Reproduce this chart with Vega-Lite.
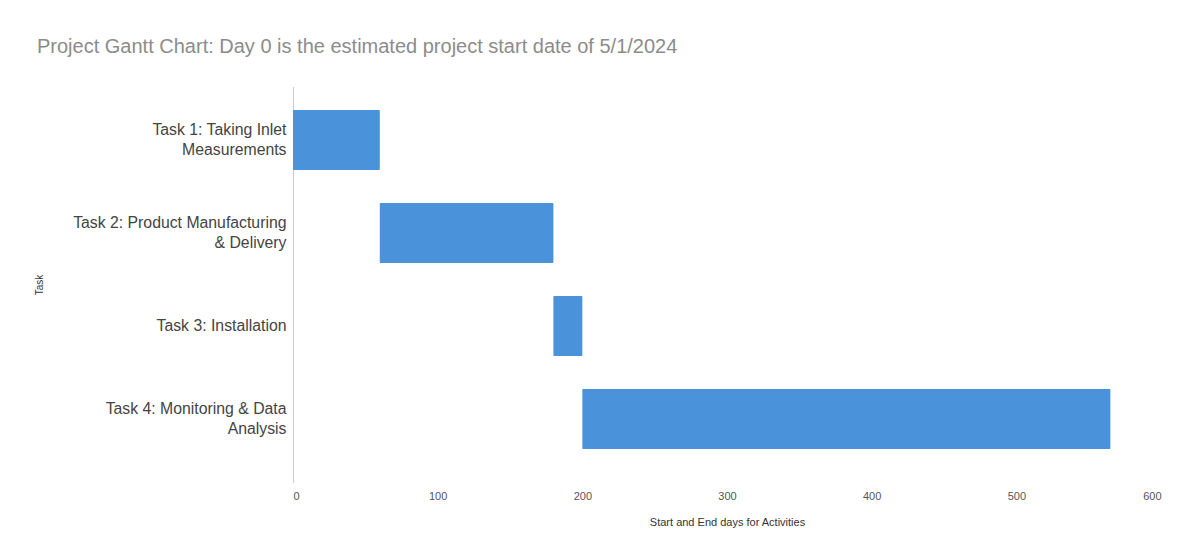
{
  "$schema": "https://vega.github.io/schema/vega-lite/v6.json",
  "width": 868,
  "height": 395,
  "autosize": "none",
  "padding": {"left": 293, "top": 87, "right": 21, "bottom": 77},
  "background": "white",
  "title": {
    "text": "Project Gantt Chart: Day 0 is the estimated project start date of 5/1/2024",
    "anchor": "start",
    "frame": "group",
    "dx": -256,
    "offset": 30,
    "font": "Liberation Sans",
    "fontSize": 20,
    "fontWeight": "normal",
    "color": "#8c8c8c"
  },
  "data": {
    "values": [
      {"task": "Task 1: Taking Inlet Measurements", "start": 0, "end": 60},
      {"task": "Task 2: Product Manufacturing & Delivery", "start": 60, "end": 180},
      {"task": "Task 3: Installation", "start": 180, "end": 200},
      {"task": "Task 4: Monitoring & Data Analysis", "start": 200, "end": 565}
    ]
  },
  "mark": {"type": "bar", "color": "#4a92da", "cornerRadius": 1},
  "encoding": {
    "y": {
      "field": "task",
      "type": "nominal",
      "scale": {"paddingInner": 0.355, "paddingOuter": 0.3, "align": 0.41},
      "axis": {
        "title": "Task",
        "titleFont": "Liberation Sans",
        "titleFontSize": 10,
        "titleFontWeight": "normal",
        "titleColor": "#333333",
        "titleX": -249,
        "labelFont": "Liberation Sans",
        "labelFontSize": 15.8,
        "labelColor": "#444444",
        "labelLimit": 400,
        "labelPadding": 7,
        "labelLineHeight": 20,
        "labelOffset": {"condition": {"test": "datum.value == 'Task 3: Installation'", "value": 0}, "value": -10},
        "labelExpr": "datum.value == 'Task 1: Taking Inlet Measurements' ? ['Task 1: Taking Inlet', 'Measurements'] : datum.value == 'Task 2: Product Manufacturing & Delivery' ? ['Task 2: Product Manufacturing', '& Delivery'] : datum.value == 'Task 4: Monitoring & Data Analysis' ? ['Task 4: Monitoring & Data', 'Analysis'] : datum.value",
        "ticks": false,
        "grid": false,
        "domain": true,
        "domainColor": "#999999",
        "domainDash": [1, 1]
      }
    },
    "x": {
      "field": "start",
      "type": "quantitative",
      "scale": {"domain": [0, 600], "nice": false},
      "axis": {
        "title": "Start and End days for Activities",
        "titleFont": "Liberation Sans",
        "titleFontSize": 11,
        "titleFontWeight": "normal",
        "titleColor": "#333333",
        "titlePadding": 15,
        "labelFont": "Liberation Sans",
        "labelFontSize": 11,
        "labelColor": "#555555",
        "labelPadding": 8,
        "values": [0, 100, 200, 300, 400, 500, 600],
        "ticks": false,
        "grid": false,
        "domain": false
      }
    },
    "x2": {"field": "end"}
  },
  "config": {"view": {"stroke": null}}
}
